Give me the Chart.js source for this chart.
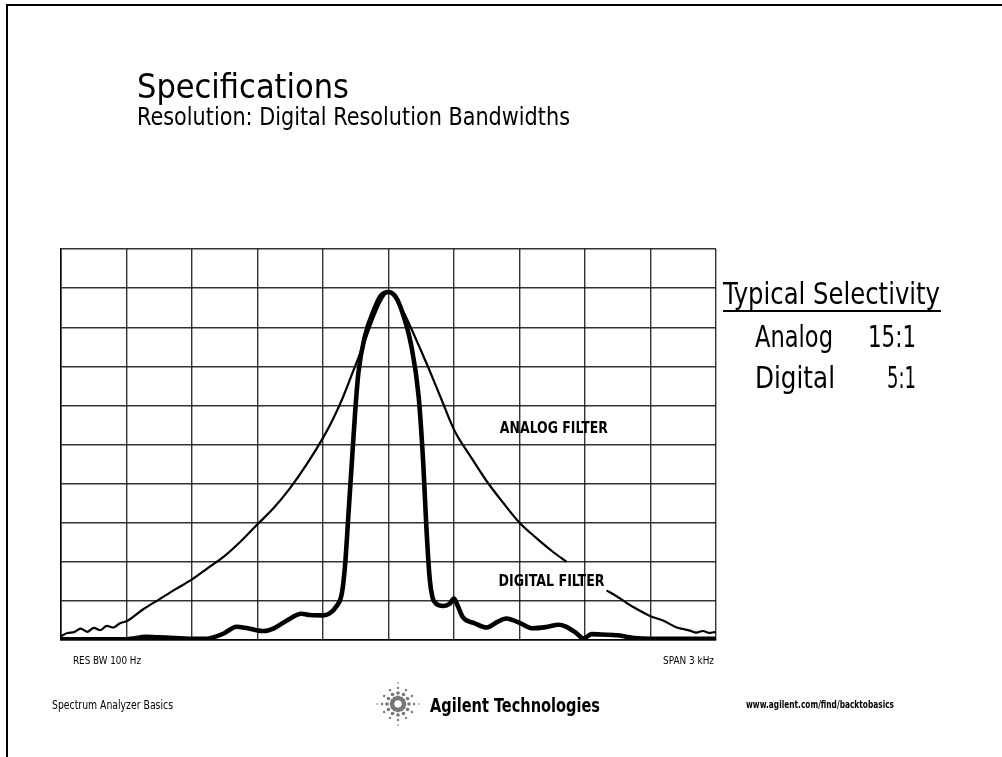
<!DOCTYPE html>
<html>
<head>
<meta charset="utf-8">
<script src="https://cdn.jsdelivr.net/npm/chart.js@4"></script>
<style>
  body { margin: 0; background: #fff; }
  canvas { display: block; }
</style>
</head>
<body>
<canvas id="myChart" width="1002" height="757"></canvas>
<script>
// screen divisions, 0..10 on both axes (log display, peak near 8.9 div)
var analogX = [0, 0.1, 0.2, 0.3, 0.4, 0.5, 0.6, 0.7, 0.8, 0.9, 1.0, 1.25, 1.5, 1.75, 2.0, 2.25, 2.5, 2.75, 3.0, 3.25, 3.5, 3.75, 4.0, 4.15, 4.3, 4.45, 4.6, 4.75, 4.88, 5.0,
               5.12, 5.25, 5.4, 5.6, 5.8, 6.0, 6.25, 6.5, 6.75, 7.0, 7.25, 7.5, 7.72, 8.0, 8.33, 8.5, 8.75, 9.0, 9.2, 9.4, 9.5, 9.6, 9.7, 9.8, 9.9, 10];
var analogY = [0.1, 0.18, 0.2, 0.29, 0.21, 0.31, 0.25, 0.36, 0.32, 0.43, 0.48, 0.78, 1.04, 1.3, 1.55, 1.85, 2.15, 2.53, 2.96, 3.38, 3.89, 4.49, 5.17, 5.64, 6.19, 6.83, 7.47, 8.15, 8.66, 8.9,
               8.7, 8.32, 7.77, 7.0, 6.19, 5.38, 4.7, 4.06, 3.51, 3.0, 2.62, 2.27, 2.0, null, 1.27, 1.1, 0.83, 0.61, 0.49, 0.32, 0.28, 0.24, 0.19, 0.23, 0.18, 0.21];

var digitalX = [0, 1.0, 1.3, 1.45, 1.6, 2.0, 2.2, 2.35, 2.5, 2.68, 2.85, 3.09, 3.25, 3.45, 3.67, 3.8, 4.0, 4.1, 4.2, 4.29, 4.34, 4.39, 4.44, 4.49, 4.54, 4.64, 4.77, 4.88, 5.0,
                5.1, 5.18, 5.35, 5.46, 5.53, 5.58, 5.63, 5.67, 5.71, 5.84, 5.93, 6.0, 6.05, 6.14, 6.3, 6.5, 6.65, 6.8, 7.0, 7.2, 7.4, 7.6, 7.7, 7.85, 7.98, 8.1, 8.25, 8.5, 8.75, 9.0, 10];
var digitalY = [0.02, 0.02, 0.08, 0.07, 0.06, 0.03, 0.03, 0.08, 0.18, 0.34, 0.3, 0.23, 0.3, 0.5, 0.67, 0.64, 0.63, 0.68, 0.85, 1.21, 1.98, 3.26, 4.53, 5.81, 6.83, 7.77, 8.41, 8.8, 8.9,
                8.8, 8.53, 7.51, 6.23, 4.53, 2.83, 1.55, 1.1, 0.96, 0.87, 0.92, 1.06, 0.9, 0.57, 0.44, 0.32, 0.45, 0.55, 0.44, 0.3, 0.33, 0.39, 0.35, 0.2, 0.04, 0.15, 0.14, 0.12, 0.05, 0.03, 0.03];

var gridTicks = [0, 1, 2, 3, 4, 5, 6, 7, 8, 9, 10];

function pts(xs, ys) {
    return xs.map(function (x, i) { return { x: x, y: ys[i] }; });
}

var narrow = "'Liberation Sans Narrow', 'DejaVu Sans Condensed', 'Roboto Condensed', sans-serif";

// draw text squeezed/stretched to the width seen in the slide
function fitText(ctx, s, x, y, w, font) {
    ctx.font = font;
    var m = ctx.measureText(s).width;
    ctx.save();
    ctx.translate(x, y);
    ctx.scale(w / m, 1);
    ctx.textAlign = 'left';
    ctx.textBaseline = 'alphabetic';
    ctx.fillText(s, 0, 0);
    ctx.restore();
}

function drawLogo(ctx, cx, cy) {
    var radii = [6, 11, 16, 21];
    var sizes = [2.4, 1.8, 1.2, 0.8];
    ctx.fillStyle = '#777';
    for (var k = 0; k < 12; k++) {
        var a = k * Math.PI / 6;
        var long = (k % 3 === 0);
        for (var j = 0; j < radii.length; j++) {
            if (!long && j === 3) continue;
            ctx.beginPath();
            ctx.arc(cx + Math.cos(a) * radii[j], cy + Math.sin(a) * radii[j], sizes[j], 0, Math.PI * 2);
            ctx.fill();
        }
    }
}

var slideText = {
    id: 'slideText',
    afterDraw: function (chart) {
        var ctx = chart.ctx;
        var xs = chart.scales.x, ys = chart.scales.y;
        ctx.save();

        // slide frame
        ctx.strokeStyle = '#000';
        ctx.lineWidth = 2;
        ctx.beginPath();
        ctx.moveTo(7, 757);
        ctx.lineTo(7, 5);
        ctx.lineTo(1002, 5);
        ctx.stroke();

        ctx.fillStyle = '#000';
        fitText(ctx, 'Specifications', 137, 98, 212, '34px ' + narrow);
        fitText(ctx, 'Resolution: Digital Resolution Bandwidths', 137, 125, 433, '25px ' + narrow);

        fitText(ctx, 'Typical Selectivity', 723, 304, 217, '31px ' + narrow);
        ctx.fillRect(723, 310, 218, 2);
        fitText(ctx, 'Analog', 755, 347, 78, '31px ' + narrow);
        fitText(ctx, '15:1', 868, 347, 48, '31px ' + narrow);
        fitText(ctx, 'Digital', 755, 388, 80, '31px ' + narrow);
        fitText(ctx, '5:1', 887, 388, 29, '31px ' + narrow);

        // labels tied to the graticule
        fitText(ctx, 'ANALOG FILTER', xs.getPixelForValue(6.7), ys.getPixelForValue(5.3), 108, 'bold 16px ' + narrow);
        fitText(ctx, 'DIGITAL FILTER', xs.getPixelForValue(6.68), ys.getPixelForValue(1.38), 106, 'bold 16px ' + narrow);

        fitText(ctx, 'RES BW 100 Hz', 73, 664, 68, '11px ' + narrow);
        fitText(ctx, 'SPAN 3 kHz', 663, 664, 51, '11px ' + narrow);

        fitText(ctx, 'Spectrum Analyzer Basics', 52, 709, 121, '13px ' + narrow);
        fitText(ctx, 'Agilent Technologies', 430, 712, 170, 'bold 19px ' + narrow);
        fitText(ctx, 'www.agilent.com/find/backtobasics', 746, 708, 148, 'bold 11px ' + narrow);
        drawLogo(ctx, 398, 704);

        ctx.restore();
    }
};

var ctx = document.getElementById('myChart');
var chart = new Chart(ctx, {
    type: 'line',
    data: {
        datasets: [{
            label: 'Analog filter',
            data: pts(analogX, analogY),
            borderColor: '#000',
            borderWidth: 2.2,
            pointRadius: 0,
            cubicInterpolationMode: 'monotone',
            spanGaps: false,
            fill: false
        }, {
            label: 'Digital filter',
            data: pts(digitalX, digitalY),
            borderColor: '#000',
            borderWidth: 4.6,
            pointRadius: 0,
            cubicInterpolationMode: 'monotone',
            fill: false
        }]
    },
    options: {
        responsive: false,
        animation: false,
        events: [],
        layout: {
            autoPadding: false,
            padding: { left: 61, right: 286, top: 249, bottom: 117 }
        },
        plugins: {
            legend: { display: false },
            tooltip: { enabled: false }
        },
        scales: {
            x: {
                type: 'linear',
                min: 0, max: 10,
                afterBuildTicks: function (s) { s.ticks = gridTicks.map(function (v) { return { value: v }; }); },
                ticks: { display: false },
                grid: { color: 'rgba(0,0,0,0.8)', lineWidth: 1.4, drawTicks: false },
                border: { display: true, color: '#000', width: 1.5 }
            },
            y: {
                type: 'linear',
                min: 0, max: 10,
                afterBuildTicks: function (s) { s.ticks = gridTicks.map(function (v) { return { value: v }; }); },
                ticks: { display: false },
                grid: { color: 'rgba(0,0,0,0.8)', lineWidth: 1.4, drawTicks: false },
                border: { display: true, color: '#000', width: 1.5 }
            }
        }
    },
    plugins: [slideText]
});
</script>
</body>
</html>
